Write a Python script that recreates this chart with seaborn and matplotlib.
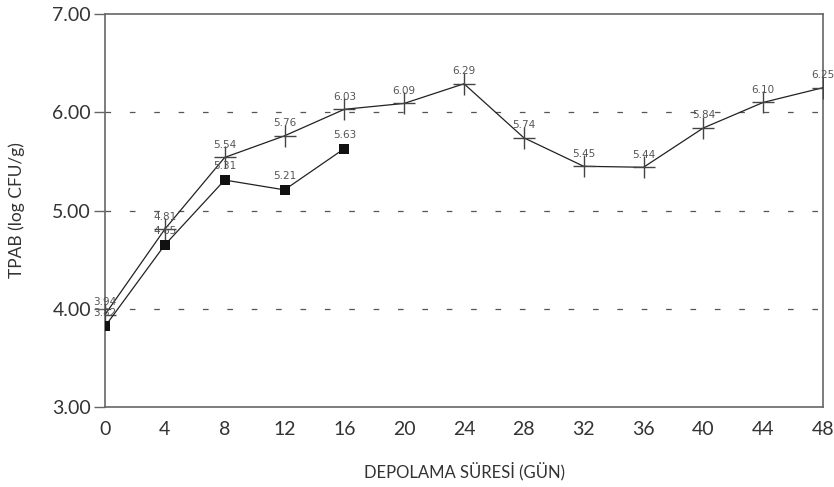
import matplotlib
matplotlib.use("Agg")
import matplotlib.pyplot as plt
import seaborn as sns
import pandas as pd

days = [0, 4, 8, 12, 16, 20, 24, 28, 32, 36, 40, 44, 48]
series_plus = [3.94, 4.81, 5.54, 5.76, 6.03, 6.09, 6.29, 5.74, 5.45, 5.44, 5.84, 6.10, 6.25]
days_sq = [0, 4, 8, 12, 16]
series_sq = [3.82, 4.65, 5.31, 5.21, 5.63]
yticks = [3.0, 4.0, 5.0, 6.0, 7.0]
ytick_labels = ["3.00", "4.00", "5.00", "6.00", "7.00"]
xlabel = "DEPOLAMA SÜRESİ (GÜN)"
ylabel = "TPAB (log CFU/g)"

sns.set_style("white")
plt.rcParams['font.family'] = ['Lato', 'DejaVu Sans']

fig = plt.figure(figsize=(8.34, 4.87), dpi=100)
ax = fig.add_axes([105/834, 1-407/487, (823-105)/834, (407-14)/487])

df1 = pd.DataFrame({"x": days, "y": series_plus})
df2 = pd.DataFrame({"x": days_sq, "y": series_sq})

for yv in [4.0, 5.0, 6.0]:
    ax.axhline(yv, color="#555555", lw=0.9, linestyle=(0, (4.5, 15)), zorder=0)

sns.lineplot(data=df1, x="x", y="y", ax=ax, color="#222222", lw=0.9,
             marker="+", markersize=16, markeredgewidth=1.0,
             markeredgecolor="#444444", zorder=3)
sns.lineplot(data=df2, x="x", y="y", ax=ax, color="#222222", lw=0.9,
             marker="s", markersize=7, markeredgewidth=0,
             markerfacecolor="#111111", zorder=4)

for x, y in zip(days, series_plus):
    ax.annotate(f"{y:.2f}", (x, y), xytext=(0, 9), textcoords="offset points",
                ha="center", va="center", fontsize=7.5, color="#555555",
                family=["DejaVu Sans"], clip_on=False)
for x, y in zip(days_sq, series_sq):
    ax.annotate(f"{y:.2f}", (x, y), xytext=(0, 10), textcoords="offset points",
                ha="center", va="center", fontsize=7.5, color="#555555",
                family=["DejaVu Sans"], clip_on=False)

ax.set_xlim(0, 48)
ax.set_ylim(3, 7)
ax.set_xticks(days)
ax.set_xticklabels([str(d) for d in days], fontsize=14, color="#333333")
ax.set_yticks(yticks)
ax.set_yticklabels(ytick_labels, fontsize=14, color="#333333")
ax.tick_params(axis="y", direction="out", length=8, width=1, color="#666666", pad=2, left=True)
ax.tick_params(axis="x", length=0, pad=10)
for s in ax.spines.values():
    s.set_color("#666666")
    s.set_linewidth(1.2)
ax.set_xlabel(xlabel, fontsize=12, color="#333333", labelpad=17)
ax.set_ylabel(ylabel, fontsize=12.5, color="#333333", labelpad=20)

fig.savefig("out.png", dpi=100)
